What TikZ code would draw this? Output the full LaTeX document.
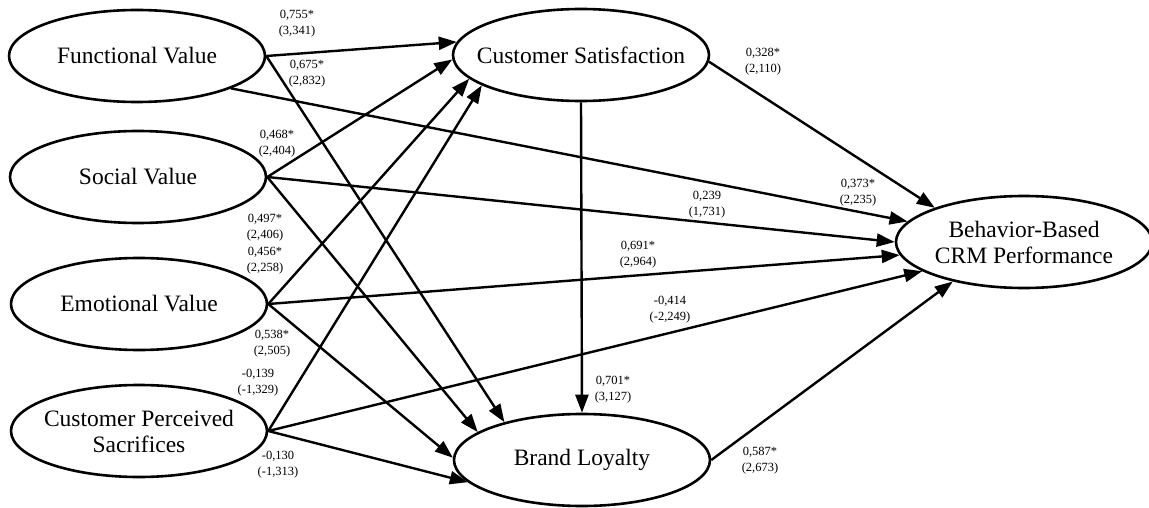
\documentclass[tikz,border=0pt]{standalone}
\usepackage{fontspec}
\setmainfont{Liberation Serif}
\usetikzlibrary{shapes.geometric,arrows.meta}

\begin{document}
\begin{tikzpicture}[x=1pt,y=-1pt,
  construct/.style={draw, ellipse, line width=2.6pt, minimum width=256pt, minimum height=92pt, inner xsep=-16pt, inner ysep=0pt, align=center, font=\fontsize{23.5}{26}\selectfont},
  link/.style={line width=2.4pt, -{Triangle[length=18pt,width=13pt]}},
  coef/.style={align=center, inner sep=0pt, font=\fontsize{12.5}{16}\selectfont}]
\useasboundingbox (0,0) rectangle (1149,508);

\node [construct] (fv) at (137,56) {Functional Value};
\node [construct] (sv) at (138,177) {Social Value};
\node [construct] (ev) at (139,304) {Emotional Value};
\node [construct] (cps) at (139,431) {Customer Perceived\\Sacrifices};
\node [construct] (cs) at (581,55) {Customer Satisfaction};
\node [construct] (bl) at (582,460) {Brand Loyalty};
\node [construct] (bb) at (1024,242) {Behavior-Based\\CRM Performance};

\draw [link] (fv.east) -- (cs.174);
\draw [link] (fv.east) -- (bl.154);
\draw [link] (fv.-19) -- (bb.170);
\draw [link] (sv.east) -- (cs.182);
\draw [link] (sv.east) -- (bl.165);
\draw [link] (sv.east) -- (bb.180);
\draw [link] (ev.east) -- (cs.192);
\draw [link] (ev.east) -- (bl.179);
\draw [link] (ev.east) -- (bb.186);
\draw [link] (cps.east) -- (cs.197);
\draw [link] (cps.east) -- (bl.191);
\draw [link] (cps.east) -- (bb.196);
\draw [link] (cs.south) -- (bl.north);
\draw [link] (cs.-3) -- (bb.159);
\draw [link] (bl.east) -- (bb.209);

\node [coef] (fvcsc) at (297,24) {0,755*\\(3,341)};
\node [coef] (fvblc) at (307,74) {0,675*\\(2,832)};
\node [coef] (svcsc) at (277,144) {0,468*\\(2,404)};
\node [coef] (svblc) at (265,228) {0,497*\\(2,406)};
\node [coef] (evcsc) at (265,261) {0,456*\\(2,258)};
\node [coef] (evblc) at (272,344) {0,538*\\(2,505)};
\node [coef] (cpscsc) at (258,383) {-0,139\\(-1,329)};
\node [coef] (cpsblc) at (278,465) {-0,130\\(-1,313)};
\node [coef] (csbbc) at (763,62) {0,328*\\(2,110)};
\node [coef] (svbbc) at (707,205) {0,239\\(1,731)};
\node [coef] (evbbc) at (638,255) {0,691*\\(2,964)};
\node [coef] (cpsbbc) at (670,310) {-0,414\\(-2,249)};
\node [coef] (csblc) at (613,390) {0,701*\\(3,127)};
\node [coef] (fvbbc) at (858,193) {0,373*\\(2,235)};
\node [coef] (blbbc) at (760,461) {0,587*\\(2,673)};

\end{tikzpicture}
\end{document}
